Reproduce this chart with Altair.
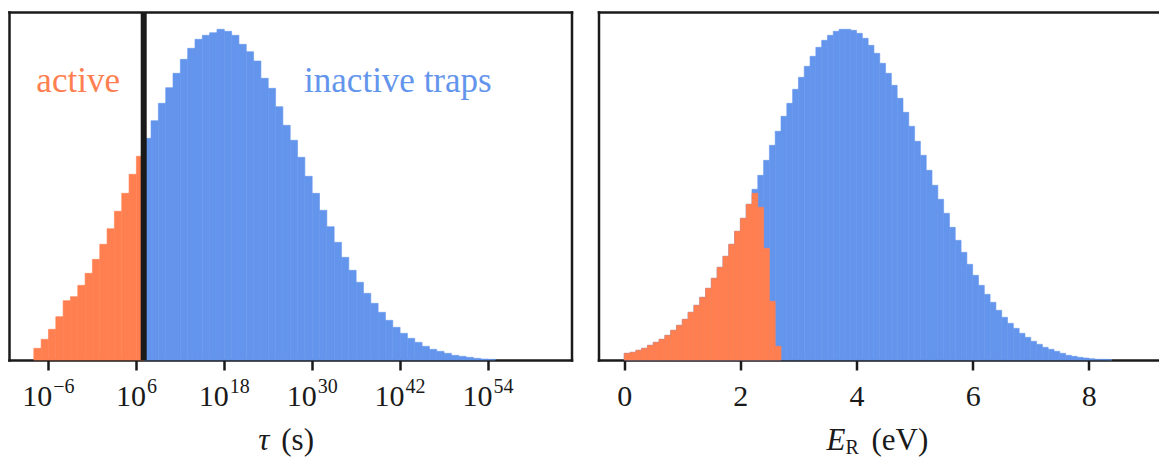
import altair as alt
import pandas as pd

# ---------------- data ----------------
TAU_THRESHOLD_LOG10 = 7          # boundary between active / inactive traps, log10(tau / s)
TAU_BIN_WIDTH = 1.0              # one decade per bin
TAU_ACTIVE_FIRST_BIN = -8
tau_active_counts = [11.7, 20.7, 30.7, 43.3, 59.3, 63.3, 74.7, 86.7, 100.7, 115.7,
                     131.3, 148.7, 166.7, 185.7, 203.7]
TAU_INACTIVE_FIRST_BIN = 7
tau_inactive_counts = [221.7, 239.3, 256.7, 272.3, 286.7, 300.7, 311.7, 320.7, 324.7, 327.3,
                       330.7, 328.7, 324.7, 315.7, 308.3, 299.0, 281.7, 271.7, 253.3, 234.7,
                       219.7, 202.7, 183.7, 166.7, 149.7, 133.3, 117.7, 102.7, 89.7, 77.7,
                       66.7, 56.7, 47.7, 39.7, 32.7, 26.7, 21.7, 17.7, 13.7, 10.7,
                       8.7, 6.7, 4.7, 3.7, 2.7, 1.7, 1.0, 0.7]

ER_BIN_WIDTH = 0.1               # eV
er_all_counts = [6.7, 7.7, 9.7, 11.7, 14.7, 17.7, 20.7, 24.7, 29.7, 34.7,
                 40.7, 47.7, 54.7, 62.7, 71.7, 81.7, 92.7, 103.7, 115.7, 128.7,
                 141.7, 155.7, 170.7, 184.7, 199.7, 214.7, 228.7, 243.7, 256.7, 270.7,
                 282.7, 293.7, 303.7, 312.7, 319.7, 324.7, 328.7, 330.7, 330.7, 329.7,
                 326.7, 321.7, 314.7, 306.7, 296.7, 286.7, 274.7, 261.7, 247.7, 233.7,
                 218.7, 204.7, 189.7, 174.7, 160.7, 146.7, 132.7, 119.7, 107.7, 95.7,
                 84.7, 74.7, 65.7, 57.7, 49.7, 42.7, 36.7, 31.7, 26.7, 22.7,
                 18.7, 15.7, 12.7, 10.7, 8.7, 6.7, 4.7, 3.7, 2.7, 2.0,
                 1.3, 0.7, 0.7, 0.3]
er_active_counts = [6.7, 7.7, 9.7, 11.7, 14.7, 17.7, 20.7, 24.7, 29.7, 34.7,
                    40.7, 47.7, 54.7, 62.7, 71.7, 81.7, 92.7, 103.7, 115.7, 128.7,
                    141.7, 155.7, 166.7, 152.7, 111.7, 58.7, 13.7]

tau_tick_values = [-6, 6, 18, 30, 42, 54]     # exponents of 10 shown on the tau axis
er_tick_values = [0, 2, 4, 6, 8]

# ---------------- styling ----------------
ORANGE = "#FF7F50"
BLUE = "#6495ED"
DARK = "#1a1a1a"
FONT = "Liberation Serif"
LW, RW, H = 562.5, 560, 348
TAU_DOMAIN = [-11.39, 65.40]
ER_DOMAIN = [-0.4425, -0.4425 + RW / 58.08]
Y_MAX = 348
BASE_SIZE, EXP_SIZE, EXP_GAP = 30, 20, 1


def hist_df(first, width, counts):
    lo = [round(first + i * width, 4) for i in range(len(counts))]
    hi = [round(v + width, 4) for v in lo]
    return pd.DataFrame({"lo": lo, "hi": hi, "count": counts})


tau_scale = alt.Scale(domain=TAU_DOMAIN, nice=False, zero=False)
er_scale = alt.Scale(domain=ER_DOMAIN, nice=False, zero=False)
y_scale = alt.Scale(domain=[0, Y_MAX], nice=False, zero=True)

frame_top = alt.Axis(orient="top", labels=False, ticks=False, title=None, grid=False, domain=True)
frame_left = alt.Axis(orient="left", labels=False, ticks=False, title=None, grid=False, domain=True)
frame_right = alt.Axis(orient="right", labels=False, ticks=False, title=None, grid=False, domain=True)


def bars(df, color, xscale, xaxis, yaxis):
    return alt.Chart(df).mark_rect(color=color, stroke=color, strokeWidth=0.6).encode(
        x=alt.X("lo:Q", scale=xscale, axis=xaxis),
        x2="hi:Q",
        y=alt.Y("count:Q", scale=y_scale, axis=yaxis),
        y2=alt.datum(0),
    )


def text_piece(label, x, y, size=31, style="normal", align="left"):
    return alt.Chart(pd.DataFrame({"label": [label]})).mark_text(
        font=FONT, fontSize=size, fontStyle=style, align=align, baseline="alphabetic", color=DARK
    ).encode(x=alt.value(x), y=alt.value(y), text="label:N")


# ---------------- left panel: tau ----------------
tau_active = hist_df(TAU_ACTIVE_FIRST_BIN, TAU_BIN_WIDTH, tau_active_counts)
tau_inactive = hist_df(TAU_INACTIVE_FIRST_BIN, TAU_BIN_WIDTH, tau_inactive_counts)

tau_bottom = alt.Axis(orient="bottom", values=tau_tick_values, labels=False,
                      title=None, grid=False, domain=True, ticks=True)

left_blue = bars(tau_inactive, BLUE, tau_scale, tau_bottom, frame_left)
left_orange = bars(tau_active, ORANGE, tau_scale, frame_top, frame_right)

threshold = alt.Chart(pd.DataFrame({"t": [TAU_THRESHOLD_LOG10]})).mark_rule(
    color=DARK, strokeWidth=6
).encode(x=alt.X("t:Q", scale=tau_scale, axis=None))

# tick labels 10^n, written as a base "10" and a raised exponent, centred on each tick
px_per_unit = LW / (TAU_DOMAIN[1] - TAU_DOMAIN[0])
rows = []
for v in tau_tick_values:
    e = str(v).replace("-", "\u2212")
    w = sum(0.564 * EXP_SIZE if c == "\u2212" else 0.5 * EXP_SIZE for c in e)
    shift = (BASE_SIZE - (w + EXP_GAP)) / 2.0
    rows.append({"anchor": v + shift / px_per_unit, "base": "10", "exp": e})
tick_df = pd.DataFrame(rows)

tick_base = alt.Chart(tick_df).mark_text(
    font=FONT, fontSize=BASE_SIZE, align="right", baseline="alphabetic", color=DARK
).encode(x=alt.X("anchor:Q", scale=tau_scale, axis=None), y=alt.value(H + 46), text="base:N")
tick_exp = alt.Chart(tick_df).mark_text(
    font=FONT, fontSize=EXP_SIZE, align="left", baseline="alphabetic", color=DARK, dx=EXP_GAP
).encode(x=alt.X("anchor:Q", scale=tau_scale, axis=None), y=alt.value(H + 33), text="exp:N")

annot = pd.DataFrame({
    "x": [-1.95, 41.7],
    "y": [268, 268],
    "label": ["active", "inactive traps"],
    "color": [ORANGE, BLUE],
})
left_text = alt.Chart(annot).mark_text(font=FONT, fontSize=35, baseline="alphabetic", align="center").encode(
    x=alt.X("x:Q", scale=tau_scale, axis=None),
    y=alt.Y("y:Q", scale=y_scale, axis=None),
    text="label:N",
    color=alt.Color("color:N", scale=None),
)

TY = H + 90
left_title = [
    text_piece("τ", LW / 2 - 32, TY, style="italic"),
    text_piece("(s)", LW / 2 - 9, TY),
]

left = alt.layer(left_blue, left_orange, threshold, tick_base, tick_exp, left_text, *left_title).resolve_axis(
    x="independent", y="independent"
).properties(width=LW, height=H)

# ---------------- right panel: E_R ----------------
er_all = hist_df(0.0, ER_BIN_WIDTH, er_all_counts)
er_active = hist_df(0.0, ER_BIN_WIDTH, er_active_counts)

er_bottom = alt.Axis(orient="bottom", values=er_tick_values, format="d",
                     title=None, grid=False, domain=True, ticks=True)

right_blue = bars(er_all, BLUE, er_scale, er_bottom, frame_left)
right_orange = bars(er_active, ORANGE, er_scale, frame_top, None)

right_title = [
    text_piece("E", RW / 2 - 52, TY, style="italic"),
    text_piece("R", RW / 2 - 33, TY + 4, size=20),
    text_piece("(eV)", RW / 2 - 7, TY),
]

right = alt.layer(right_blue, right_orange, *right_title).resolve_axis(
    x="independent", y="independent"
).properties(width=RW, height=H)

chart = alt.hconcat(left, right, spacing=25.5).properties(
    padding={"left": 8, "top": 8, "right": 0, "bottom": 0},
    background="white",
).configure_view(stroke="transparent").configure_axis(
    domainColor=DARK, domainWidth=2.5, domainCap="square",
    tickColor=DARK, tickWidth=2.5, tickSize=10,
    labelFont=FONT, labelFontSize=30, labelColor=DARK, labelPadding=11,
    labelFlush=False, labelOverlap=False, zindex=1, grid=False,
)

chart.save("out.html", embed_options={"renderer": "svg", "actions": False})
